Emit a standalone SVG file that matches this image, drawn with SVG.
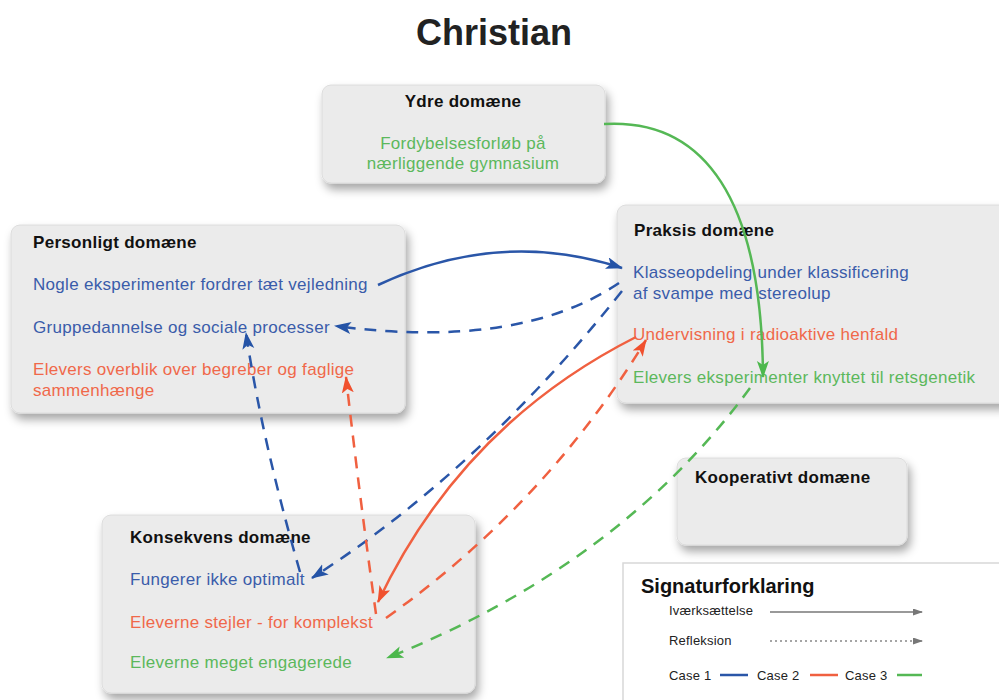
<svg xmlns="http://www.w3.org/2000/svg" width="999" height="700" viewBox="0 0 999 700">
<defs>
<filter id="sh" x="-10%" y="-10%" width="130%" height="140%">
<feDropShadow dx="3" dy="6" stdDeviation="5" flood-color="#000" flood-opacity="0.35"/>
</filter>
<marker id="aB" markerWidth="18" markerHeight="14" refX="16" refY="6" orient="auto" markerUnits="userSpaceOnUse"><path d="M0,0 L17,6 L0,12 L4,6 z" fill="#2453a6"/></marker>
<marker id="aO" markerWidth="18" markerHeight="14" refX="16" refY="6" orient="auto" markerUnits="userSpaceOnUse"><path d="M0,0 L17,6 L0,12 L4,6 z" fill="#f0502e"/></marker>
<marker id="aG" markerWidth="18" markerHeight="14" refX="16" refY="6" orient="auto" markerUnits="userSpaceOnUse"><path d="M0,0 L17,6 L0,12 L4,6 z" fill="#4cb84c"/></marker>
<marker id="aK" markerWidth="10" markerHeight="8" refX="9" refY="3.5" orient="auto" markerUnits="userSpaceOnUse"><path d="M0,0 L10,3.5 L0,7 z" fill="#777"/></marker>
</defs>
<style>
text{font-family:"Liberation Sans",Arial,sans-serif}
.box{fill:#ebebeb;stroke:#dcdcdc;stroke-width:1;filter:url(#sh)}
.t{font-size:17px;font-weight:bold;fill:#111;letter-spacing:0.3px}
.c{font-size:17px;letter-spacing:0.3px}
.b{fill:#3a5caa}
.o{fill:#f0684a}
.g{fill:#5cb85c}
.lb{fill:none;stroke:#2a56a8;stroke-width:2.5}
.lo{fill:none;stroke:#f06040;stroke-width:2.5}
.lg{fill:none;stroke:#55b855;stroke-width:2.5}
.d{stroke-dasharray:12 9}
.lt{font-size:13px;fill:#222;letter-spacing:0.2px}
</style>
<rect width="999" height="700" fill="#fff"/>
<text x="494" y="45" text-anchor="middle" font-size="36" font-weight="bold" fill="#222">Christian</text>

<g id="ydre">
<rect class="box" x="322" y="85" width="283" height="98" rx="9"/>
<text class="t" x="463" y="107" text-anchor="middle">Ydre domæne</text>
<text class="c g" x="463" y="149" text-anchor="middle">Fordybelsesforløb på</text>
<text class="c g" x="463" y="169" text-anchor="middle">nærliggende gymnasium</text>
</g>

<g id="personligt">
<rect class="box" x="11" y="225" width="394" height="188" rx="9"/>
<text class="t" x="33" y="248">Personligt domæne</text>
<text class="c b" x="33" y="290">Nogle eksperimenter fordrer tæt vejledning</text>
<text class="c b" x="33" y="333">Gruppedannelse og sociale processer</text>
<text class="c o" x="33" y="375">Elevers overblik over begreber og faglige</text>
<text class="c o" x="33" y="396">sammenhænge</text>
</g>

<g id="praksis">
<rect class="box" x="617" y="205" width="395" height="198" rx="9"/>
<text class="t" x="634" y="236">Praksis domæne</text>
<text class="c b" x="633" y="278">Klasseopdeling under klassificering</text>
<text class="c b" x="633" y="299">af svampe med stereolup</text>
<text class="c o" x="633" y="340">Undervisning i radioaktive henfald</text>
<text class="c g" x="633" y="383">Elevers eksperimenter knyttet til retsgenetik</text>
</g>

<g id="kooperativt">
<rect class="box" x="677" y="458" width="230" height="87" rx="9"/>
<text class="t" x="695" y="483">Kooperativt domæne</text>
</g>

<g id="konsekvens">
<rect class="box" x="102" y="515" width="373" height="178" rx="9"/>
<text class="t" x="130" y="543">Konsekvens domæne</text>
<text class="c b" x="130" y="585">Fungerer ikke optimalt</text>
<text class="c o" x="130" y="628">Eleverne stejler - for komplekst</text>
<text class="c g" x="130" y="668">Eleverne meget engagerede</text>
</g>

<g id="connectors">
<path class="lb" d="M378,285 Q500,228 622,268" marker-end="url(#aB)"/>
<path class="lb d" d="M619,283 Q520,350 335,326" marker-end="url(#aB)"/>
<path class="lb d" d="M622,291 Q480,470 312,578" marker-end="url(#aB)"/>
<path class="lb d" d="M300,572 Q262,440 246,333" marker-end="url(#aB)"/>
<path class="lo" d="M636,337 Q462,425 378,602" marker-end="url(#aO)"/>
<path class="lo d" d="M376,614 Q360,500 346,377" marker-end="url(#aO)"/>
<path class="lo d" d="M386,618 Q545,505 646,340" marker-end="url(#aO)"/>
<path class="lg" d="M604,124 C705,118 762,200 763,377" marker-end="url(#aG)"/>
<path class="lg d" d="M750,388 Q620,565 387,658" marker-end="url(#aG)"/>
</g>

<g id="legend">
<rect x="623" y="563" width="390" height="150" fill="#fff" stroke="#d8d8d8" stroke-width="1.5"/>
<text x="641" y="593" font-size="20" font-weight="bold" fill="#111">Signaturforklaring</text>
<text class="lt" x="669" y="615">Iværksættelse</text>
<line x1="770" y1="612" x2="922" y2="612" stroke="#777" stroke-width="1.5" marker-end="url(#aK)"/>
<text class="lt" x="669" y="645">Refleksion</text>
<line x1="770" y1="641" x2="922" y2="641" stroke="#888" stroke-width="1.5" stroke-dasharray="2 3" marker-end="url(#aK)"/>
<text class="lt" x="669" y="680">Case 1</text>
<line x1="720" y1="675" x2="748" y2="675" stroke="#2a56a8" stroke-width="2.5"/>
<text class="lt" x="757" y="680">Case 2</text>
<line x1="810" y1="675" x2="838" y2="675" stroke="#f06040" stroke-width="2.5"/>
<text class="lt" x="845" y="680">Case 3</text>
<line x1="897" y1="675" x2="922" y2="675" stroke="#55b855" stroke-width="2.5"/>
</g>
</svg>
